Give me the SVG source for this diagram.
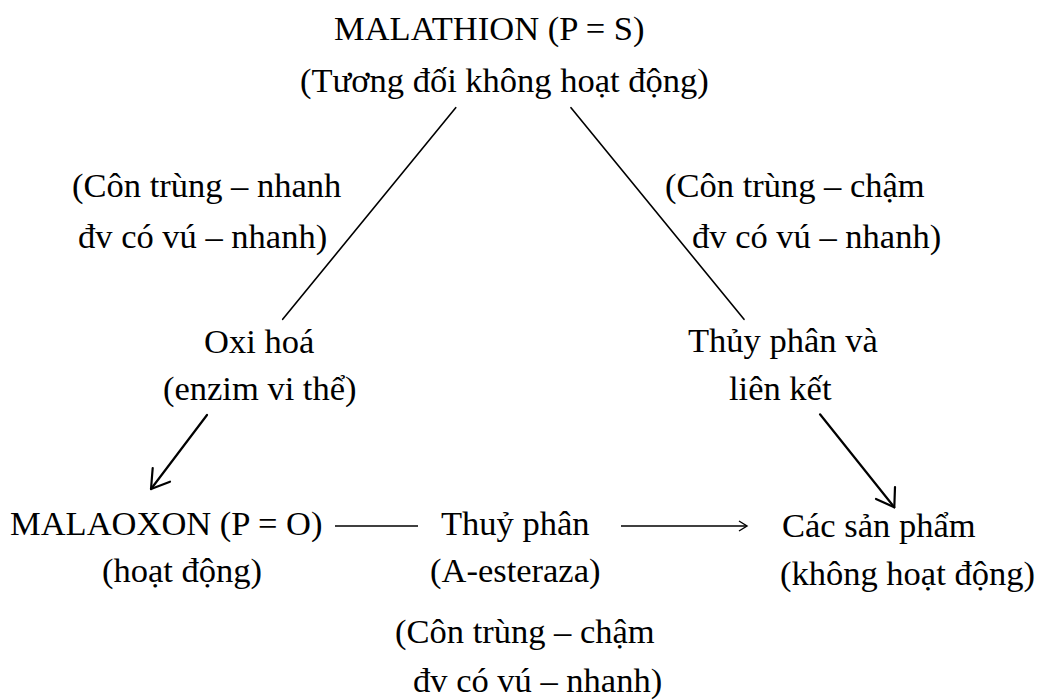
<svg xmlns="http://www.w3.org/2000/svg" width="1051" height="700" viewBox="0 0 1051 700">
  <style>
    text { font-family: 'Liberation Serif', 'Times New Roman', Tinos, 'DejaVu Serif', serif; font-size: 34.5px; fill: #000; }
    .edge { stroke: #000; stroke-width: 1.6; fill: none; stroke-linecap: round; }
    .arrow { stroke: #000; stroke-width: 2.2; fill: none; stroke-linecap: round; stroke-linejoin: round; }
    .dash { stroke: #000; stroke-width: 1.4; fill: none; }
  </style>
  <rect width="1051" height="700" fill="#fff"/>

  <g id="malathion">
    <text x="334" y="40">MALATHION (P = S)</text>
    <text x="300" y="92">(Tương đối không hoạt động)</text>
  </g>

  <g id="label-left">
    <text x="72" y="197">(Côn trùng – nhanh</text>
    <text x="78" y="248">đv có vú – nhanh)</text>
  </g>

  <g id="label-right">
    <text x="665" y="197">(Côn trùng – chậm</text>
    <text x="692" y="248">đv có vú – nhanh)</text>
  </g>

  <g id="oxidation">
    <text x="204" y="353">Oxi hoá</text>
    <text x="163" y="400">(enzim vi thể)</text>
  </g>

  <g id="hydrolysis-conjugation">
    <text x="688" y="352">Thủy phân và</text>
    <text x="729" y="400">liên kết</text>
  </g>

  <g id="malaoxon">
    <text x="10" y="535">MALAOXON (P = O)</text>
    <text x="102" y="582">(hoạt động)</text>
  </g>

  <g id="hydrolysis">
    <text x="441" y="535">Thuỷ phân</text>
    <text x="430" y="582">(A-esteraza)</text>
    <text x="395" y="643">(Côn trùng – chậm</text>
    <text x="413" y="692">đv có vú – nhanh)</text>
  </g>

  <g id="products">
    <text x="782" y="537">Các sản phẩm</text>
    <text x="780" y="585">(không hoạt động)</text>
  </g>

  <g id="connectors">
    <!-- branches out of malathion -->
    <line class="edge" x1="455.7" y1="107.7" x2="282.7" y2="319.3"/>
    <line class="edge" x1="571" y1="107.7" x2="744" y2="319.3"/>
    <!-- oxidation to malaoxon -->
    <line class="arrow" x1="207" y1="415" x2="151" y2="489"/>
    <path class="arrow" d="M152.7,468 L151,489 L170,481.7"/>
    <!-- hydrolysis/conjugation to products -->
    <line class="arrow" x1="820" y1="414.3" x2="894.3" y2="507.3"/>
    <path class="arrow" d="M876,499 L894.3,507.3 L895,487"/>
    <!-- bottom chain -->
    <line class="dash" x1="335" y1="526" x2="418" y2="526"/>
    <line class="dash" x1="621" y1="526" x2="746" y2="526"/>
    <path class="dash" d="M739,521 L747,526 L739,531"/>
  </g>
</svg>
